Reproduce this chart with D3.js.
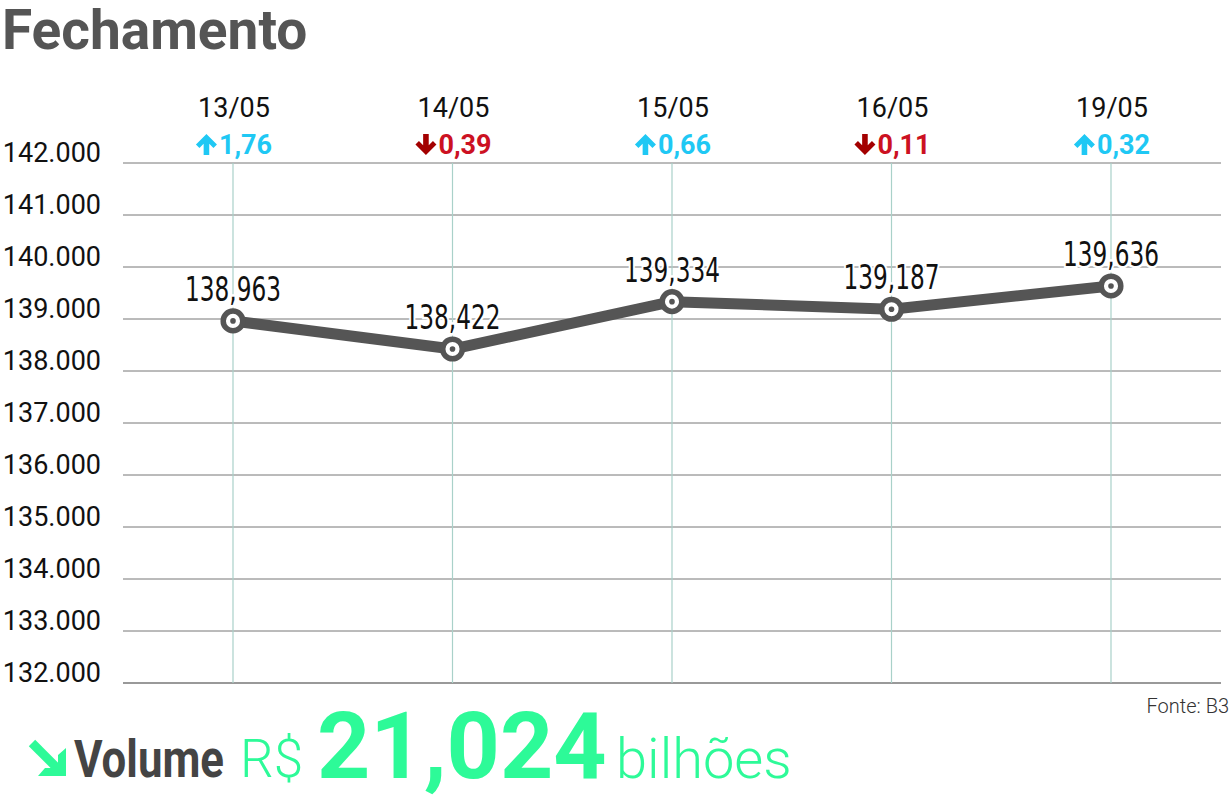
<!DOCTYPE html>
<html>
<head>
<meta charset="utf-8">
<script src="https://cdn.jsdelivr.net/npm/d3@7"></script>
<style>
  html, body { margin: 0; padding: 0; background: #fff; }
  svg { display: block; }
</style>
</head>
<body>
<svg id="chart" width="1232" height="803"></svg>
<script>
// ---- data ----
const title = "Fechamento";
const dates = ["13/05", "14/05", "15/05", "16/05", "19/05"];
const closes = [138963, 138422, 139334, 139187, 139636];
const changes = [1.76, -0.39, 0.66, -0.11, 0.32];
const yTicks = [132000, 133000, 134000, 135000, 136000, 137000, 138000, 139000, 140000, 141000, 142000];
const source = "Fonte: B3";
const volumeLabel = "Volume";
const volumeCurrency = "R$";
const volumeValue = "21,024";
const volumeUnit = "bilhões";

// ---- setup ----
const svg = d3.select("#chart");
const ptLocale = d3.formatLocale({ decimal: ",", thousands: ".", grouping: [3], currency: ["R$", ""] });
const fmtTick = ptLocale.format(",.0f");
const fmtChange = ptLocale.format(".2f");
const fmtClose = d3.format(",");

const x = d3.scalePoint().domain(dates).range([233, 1111]);
const y = d3.scaleLinear().domain([132000, 142000]).range([683, 163]);
const gridLeft = 123, gridRight = 1221;

// title
svg.append("text")
  .attr("x", 2).attr("y", 49)
  .attr("font-family", "Roboto").attr("font-weight", 700)
  .attr("font-size", 55)
  .attr("fill", "#555")
  .text(title);

// horizontal gridlines
svg.append("g").selectAll("line").data(yTicks).join("line")
  .attr("x1", gridLeft).attr("x2", gridRight)
  .attr("y1", d => y(d)).attr("y2", d => y(d))
  .attr("stroke", d => d === 132000 ? "#999" : "#777")
  .attr("stroke-width", d => d === 132000 ? 2 : 1);

// y tick labels
svg.append("g").selectAll("text").data(yTicks).join("text")
  .attr("x", 101).attr("y", d => y(d) - 1)
  .attr("text-anchor", "end")
  .attr("font-family", "Roboto").attr("font-size", 27)
  .attr("fill", "#111")
  .text(d => fmtTick(d));

// vertical gridlines
svg.append("g").selectAll("line").data(dates).join("line")
  .attr("x1", d => x(d)).attr("x2", d => x(d))
  .attr("y1", y(142000)).attr("y2", y(132000))
  .attr("stroke", "#a9d1c9").attr("stroke-width", 1.2);

// date labels
svg.append("g").selectAll("text").data(dates).join("text")
  .attr("x", d => x(d) + 1).attr("y", 117)
  .attr("text-anchor", "middle")
  .attr("font-family", "Roboto").attr("font-size", 27)
  .attr("fill", "#111")
  .text(d => d);

// change labels with arrows
const upColor = "#1fc8f4", downArrow = "#a30000", downText = "#cc1122";
const chg = svg.append("g").selectAll("g").data(dates).join("g")
  .attr("transform", (d, i) => `translate(${x(d)},0)`);
chg.each(function(d, i) {
  const g = d3.select(this);
  const v = changes[i];
  const up = v >= 0;
  const t = g.append("text")
    .attr("y", 154)
    .attr("font-family", "Roboto").attr("font-weight", 700)
    .attr("font-size", 27)
    .attr("fill", up ? upColor : downText)
    .text(fmtChange(Math.abs(v)));
  const w = t.node().getComputedTextLength();
  const aw = 23;
  const total = aw + w;
  const x0 = -total / 2 + 1;
  t.attr("x", x0 + aw);
  const ax = x0 + 10.5, top = 134;
  const pts = up
    ? [[0, 0], [10.5, 10.5], [7, 14], [2.8, 9.8], [2.8, 21], [-2.8, 21], [-2.8, 9.8], [-7, 14], [-10.5, 10.5]]
    : [[0, 21], [10.5, 10.5], [7, 7], [2.8, 11.2], [2.8, 0], [-2.8, 0], [-2.8, 11.2], [-7, 7], [-10.5, 10.5]];
  g.append("path")
    .attr("d", "M" + pts.map(p => [ax + p[0], top + p[1]].join(",")).join("L") + "Z")
    .attr("fill", up ? upColor : downArrow);
});

// line
const pts = dates.map((d, i) => [x(d), y(closes[i])]);
svg.append("path")
  .attr("d", d3.line()(pts))
  .attr("fill", "none").attr("stroke", "#555").attr("stroke-width", 11)
  .attr("stroke-linejoin", "round");

// value labels
svg.append("g").selectAll("text").data(dates).join("text")
  .attr("x", d => x(d))
  .attr("y", (d, i) => y(closes[i]) - 20)
  .attr("text-anchor", "middle")
  .attr("font-family", "DejaVu Sans Condensed, DejaVu Sans, sans-serif")
  .attr("font-stretch", "condensed")
  .attr("font-size", 34)
  .attr("textLength", 96).attr("lengthAdjust", "spacingAndGlyphs")
  .attr("fill", "#111")
  .attr("stroke", "#fff").attr("stroke-width", 5).attr("paint-order", "stroke")
  .text((d, i) => fmtClose(closes[i]));

// markers
const mk = svg.append("g").selectAll("g").data(dates).join("g")
  .attr("transform", (d, i) => `translate(${x(d)},${y(closes[i])})`);
mk.append("circle").attr("r", 9.8).attr("fill", "#fff").attr("stroke", "#555").attr("stroke-width", 5.5);
mk.append("circle").attr("r", 2.8).attr("fill", "#555");

// source
svg.append("text")
  .attr("x", 1229).attr("y", 713)
  .attr("text-anchor", "end")
  .attr("font-family", "Roboto").attr("font-weight", 300)
  .attr("font-size", 20).attr("fill", "#333")
  .text(source);

// volume footer
const green = "#2dfa98";
svg.append("line").attr("x1", 32).attr("y1", 743).attr("x2", 58).attr("y2", 769)
  .attr("stroke", green).attr("stroke-width", 9);
svg.append("path").attr("d", "M66,748 L66,776 L38,776 L45,768 L58,768 L58,755 Z")
  .attr("fill", green);

const vol = svg.append("text")
  .attr("y", 777)
  .attr("font-family", "Roboto").attr("font-weight", 700)
  .attr("font-size", 51).attr("fill", "#444")
  .text(volumeLabel);
const vw = vol.node().getComputedTextLength();
vol.attr("transform", `translate(74,0) scale(${150 / vw},1)`);

svg.append("text")
  .attr("x", 240).attr("y", 777)
  .attr("font-family", "Roboto").attr("font-weight", 300)
  .attr("font-size", 53).attr("fill", green)
  .text(volumeCurrency);

svg.append("text")
  .attr("x", 317).attr("y", 778)
  .attr("font-family", "Roboto").attr("font-weight", 700)
  .attr("font-size", 93).attr("fill", green)
  .text(volumeValue);

svg.append("text")
  .attr("x", 616).attr("y", 778)
  .attr("font-family", "Roboto").attr("font-weight", 300)
  .attr("font-size", 56).attr("fill", green)
  .text(volumeUnit);
</script>
</body>
</html>
